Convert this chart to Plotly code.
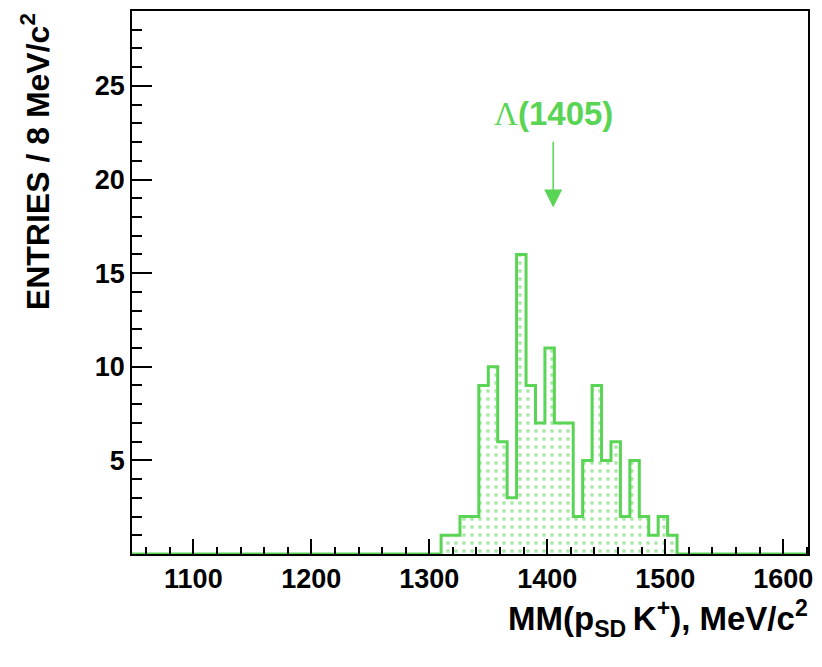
import plotly.graph_objects as go

# Histogram data (8 MeV/c^2 bins starting at 1310 MeV/c^2)
bin_start = 1310
bin_width = 8
counts = [1, 1, 2, 2, 9, 10, 6, 3, 16, 9, 7, 11, 7, 7, 2, 5, 9, 5, 6, 2, 5, 2, 1, 2, 1]

x_range = [1048, 1621]
y_range = [0, 29]
x_tickvals = [1100, 1200, 1300, 1400, 1500, 1600]
y_tickvals = [5, 10, 15, 20, 25]
peak_label = "Λ(1405)"
peak_mass = 1405

GREEN = "#59d454"

edges = [bin_start + i * bin_width for i in range(len(counts))]
xs = [x_range[0]] + edges + [bin_start + bin_width * len(counts), x_range[1]]
ys = [0] + counts + [0, 0]

fig = go.Figure()
fig.add_trace(go.Scatter(
    x=xs, y=ys, mode="lines", line=dict(shape="hv", color=GREEN, width=3),
    fill="tozeroy", fillcolor="white",
    fillpattern=dict(shape=".", fgcolor=GREEN, bgcolor="white", size=8, solidity=0.18),
    hoverinfo="skip", showlegend=False,
))

font_family = "Liberation Sans, Arial, sans-serif"

fig.update_layout(
    width=822, height=667,
    margin=dict(l=132, r=9, t=11, b=113),
    paper_bgcolor="white", plot_bgcolor="white",
    font=dict(family=font_family, size=27, color="black", weight="bold"),
    xaxis=dict(
        range=x_range, tickvals=x_tickvals, ticks="inside", ticklen=15, tickwidth=1.5,
        tickcolor="black", showgrid=False, zeroline=False,
        showline=True, linecolor="black", linewidth=1.5, mirror=True,
        minor=dict(dtick=20, tick0=1000, ticks="inside", ticklen=7, tickwidth=1.5, tickcolor="black", showgrid=False),
        tickfont=dict(size=27, family=font_family, weight="bold"),
    ),
    yaxis=dict(
        range=y_range, tickvals=y_tickvals, ticks="inside", ticklen=20, tickwidth=1.5,
        tickcolor="black", showgrid=False, zeroline=False,
        showline=True, linecolor="black", linewidth=1.5, mirror=True,
        minor=dict(dtick=1, tick0=0, ticks="inside", ticklen=10, tickwidth=1.5, tickcolor="black", showgrid=False),
        tickfont=dict(size=27, family=font_family, weight="bold"),
    ),
)

# Axis titles
fig.add_annotation(
    xref="paper", yref="paper", x=1.003, y=-0.118, xanchor="right", yanchor="middle",
    text="MM(p<sub>SD</sub>\u2009K<sup>+</sup>), MeV/c<sup>2</sup>", showarrow=False,
    font=dict(size=33, family=font_family, weight="bold", color="black"),
)
fig.add_annotation(
    xref="paper", yref="paper", x=-0.144, y=1.0, xanchor="center", yanchor="top",
    text="ENTRIES / 8 MeV/c<sup>2</sup>", textangle=-90, showarrow=False,
    font=dict(size=32, family=font_family, weight="bold", color="black"),
)

# Peak marker
fig.add_annotation(
    x=peak_mass, y=18.5, ax=peak_mass, ay=22.1, axref="x", ayref="y", xref="x", yref="y",
    text="", showarrow=True, arrowhead=2, arrowsize=2.4, arrowwidth=1.5, arrowcolor=GREEN,
)
fig.add_annotation(
    x=peak_mass, y=23.5, xref="x", yref="y", xanchor="center", yanchor="middle",
    text="<span style='font-family:Liberation Serif, serif; font-weight:normal'>Λ</span>(1405)",
    showarrow=False, font=dict(size=33, family=font_family, weight="bold", color=GREEN),
)

fig.write_html("out.html")
